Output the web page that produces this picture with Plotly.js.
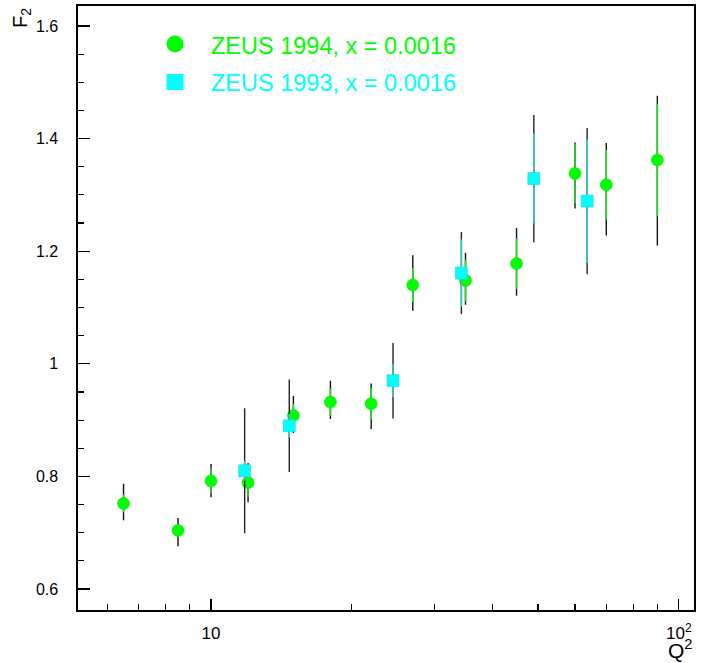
<!DOCTYPE html>
<html>
<head>
<meta charset="utf-8">
<script src="https://cdn.plot.ly/plotly-3.0.1.min.js"></script>
<style>
  html, body { margin: 0; padding: 0; background: #fff; }
  #chart { width: 709px; height: 663px; }
</style>
</head>
<body>
<div id="chart"></div>
<script>
// F2 versus Q^2 at x = 0.0016: ZEUS 1994 and ZEUS 1993 measurements.
// Inner (coloured) bars: statistical error; outer (black) bars: total error.

var q2_1994      = [6.5, 8.5, 10, 12, 15, 18, 22, 27, 35, 45, 60, 70, 90];
var f2_1994      = [0.752, 0.704, 0.792, 0.789, 0.908, 0.932, 0.929, 1.140, 1.148, 1.178, 1.338, 1.318, 1.362];
var stat_1994    = [0.016, 0.011, 0.022, 0.025, 0.021, 0.024, 0.028, 0.030, 0.037, 0.045, 0.053, 0.062, 0.100];
var totUp_1994   = [0.035, 0.022, 0.030, 0.035, 0.035, 0.038, 0.036, 0.053, 0.049, 0.063, 0.055, 0.074, 0.114];
var totDown_1994 = [0.030, 0.028, 0.029, 0.035, 0.031, 0.030, 0.045, 0.046, 0.043, 0.057, 0.062, 0.090, 0.152];

var q2_1993   = [11.8, 14.7, 24.5, 34.3, 49, 63.7];
var f2_1993   = [0.810, 0.890, 0.970, 1.161, 1.329, 1.289];
var stat_1993 = [0.018, 0.021, 0.029, 0.060, 0.080, 0.110];
var tot_1993  = [0.111, 0.082, 0.067, 0.073, 0.113, 0.130];

var xMinorTicks = [6, 7, 8, 9, 20, 30, 40, 50, 60, 70, 80, 90];
var xMajorTicks = [10, 100];
var xMajorText  = ['10', '10<sup>2</sup>'];
var yTicks      = [0.6, 0.8, 1.0, 1.2, 1.4, 1.6];
var yTickText   = ['0.6', '0.8', '1', '1.2', '1.4', '1.6'];

var label1994 = 'ZEUS 1994, x = 0.0016';
var label1993 = 'ZEUS 1993, x = 0.0016';

var GREEN = '#00ff00';
var CYAN  = '#00ffff';
var FONT  = '"Liberation Sans", Arial, Helvetica, sans-serif';

function errorTrace(x, y, up, down, color) {
  return {
    x: x, y: y, type: 'scatter', mode: 'markers',
    marker: { size: 1, opacity: 0 },
    error_y: { type: 'data', symmetric: false, array: up, arrayminus: down, visible: true,
               color: color, thickness: 1.4, width: 0 },
    hoverinfo: 'skip', showlegend: false
  };
}

function pointTrace(x, y, err, barColor, symbol, fill, lineColor) {
  return {
    x: x, y: y, type: 'scatter', mode: 'markers',
    marker: { symbol: symbol, size: 12, color: fill, line: { color: lineColor, width: 0.6 } },
    error_y: { type: 'data', array: err, visible: true, color: barColor, thickness: 1.6, width: 0 },
    hoverinfo: 'skip', showlegend: false
  };
}

var data = [
  errorTrace(q2_1994, f2_1994, totUp_1994, totDown_1994, '#111111'),
  pointTrace(q2_1994, f2_1994, stat_1994, '#22dd22', 'circle', GREEN, '#00dd00'),
  errorTrace(q2_1993, f2_1993, tot_1993, tot_1993, '#222222'),
  pointTrace(q2_1993, f2_1993, stat_1993, '#33cccc', 'square', CYAN, '#33cccc')
];

// plot frame in pixels: left 78, right 694, top 6, bottom 610
var L = 78, R = 694, T = 6, B = 610;
function px(xp) { return (xp - L) / (R - L); }
function py(yp) { return (B - yp) / (B - T); }

var layout = {
  width: 709, height: 663,
  margin: { l: L, r: 709 - R, t: T, b: 663 - B },
  paper_bgcolor: '#ffffff', plot_bgcolor: '#ffffff',
  font: { family: FONT, color: '#000000' },
  showlegend: false,
  xaxis: {
    type: 'log',
    range: [Math.log10(5.195), Math.log10(107.8)],
    tickmode: 'array', tickvals: xMajorTicks, ticktext: xMajorText,
    ticks: 'inside', ticklen: 11, tickwidth: 1.2, tickcolor: '#000',
    ticklabelstandoff: 7,
    tickfont: { family: FONT, size: 17, color: '#000' },
    minor: { tickmode: 'array', tickvals: xMinorTicks, ticks: 'inside', ticklen: 6, tickwidth: 1.2, tickcolor: '#000', showgrid: false },
    showgrid: false, zeroline: false,
    showline: true, linecolor: '#000', linewidth: 1.6, mirror: true
  },
  yaxis: {
    range: [0.5627, 1.6355],
    tickmode: 'array', tickvals: yTicks, ticktext: yTickText,
    ticks: 'inside', ticklen: 12, tickwidth: 1.2, tickcolor: '#000',
    ticklabelstandoff: 15,
    tickfont: { family: FONT, size: 16, color: '#000' },
    minor: { dtick: 0.05, tick0: 0.6, ticks: 'inside', ticklen: 6, tickwidth: 1.2, tickcolor: '#000', showgrid: false },
    showgrid: false, zeroline: false,
    showline: true, linecolor: '#000', linewidth: 1.6, mirror: true
  },
  shapes: [
    { type: 'circle', xref: 'paper', yref: 'paper',
      xsizemode: 'pixel', ysizemode: 'pixel',
      xanchor: px(175), yanchor: py(44), x0: -8.5, x1: 8.5, y0: -8.5, y1: 8.5,
      fillcolor: GREEN, line: { width: 0 } },
    { type: 'rect', xref: 'paper', yref: 'paper',
      xsizemode: 'pixel', ysizemode: 'pixel',
      xanchor: px(175), yanchor: py(82), x0: -8.5, x1: 8.5, y0: -8, y1: 8,
      fillcolor: CYAN, line: { width: 0 } }
  ],
  annotations: [
    { text: label1994, xref: 'paper', yref: 'paper', x: px(209), y: py(46),
      xanchor: 'left', yanchor: 'middle', showarrow: false,
      font: { family: FONT, size: 23.5, color: GREEN } },
    { text: label1993, xref: 'paper', yref: 'paper', x: px(209), y: py(83),
      xanchor: 'left', yanchor: 'middle', showarrow: false,
      font: { family: FONT, size: 23.5, color: CYAN } },
    { text: 'F<sub>2</sub>', xref: 'paper', yref: 'paper', x: px(22), y: py(18),
      xanchor: 'center', yanchor: 'middle', textangle: -90, showarrow: false,
      font: { family: FONT, size: 20, color: '#000' } },
    { text: 'Q<sup>2</sup>', xref: 'paper', yref: 'paper', x: px(680), y: py(649),
      xanchor: 'center', yanchor: 'middle', showarrow: false,
      font: { family: FONT, size: 21, color: '#000' } }
  ]
};

Plotly.newPlot('chart', data, layout, { staticPlot: true, displayModeBar: false });
</script>
</body>
</html>
